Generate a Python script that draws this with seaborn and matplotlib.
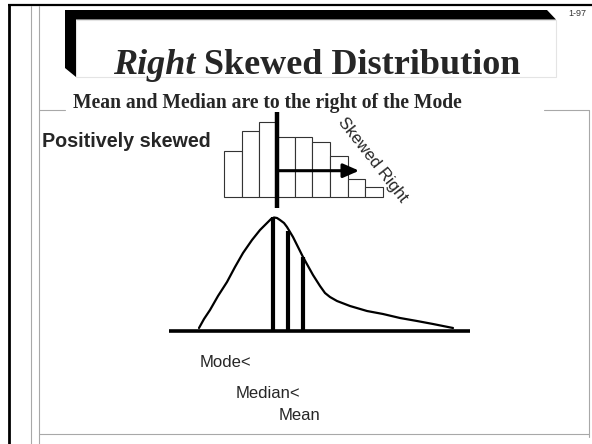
import matplotlib
matplotlib.use("Agg")
import matplotlib.pyplot as plt
import seaborn as sns
import pandas as pd
from matplotlib.patches import Polygon, Rectangle

# histogram bar heights (top panel)
bins = ["b1", "b2", "b3", "b4", "b5", "b6", "b7", "b8", "b9"]
bar_heights = [46, 66, 75, 60, 60, 55, 41, 18, 10]

# skewed density curve
curve_x = [30, 35, 41, 49, 58, 66, 74, 83, 91, 95, 99, 102, 105, 108, 111, 115,
           118, 124, 134, 144, 151, 156, 161, 168, 181, 198, 214, 231, 248, 264, 284]
curve_y = [3, 12, 21, 35, 49, 64, 78, 91, 101, 105, 109, 112, 113.5, 113, 111, 108,
           104, 94, 74, 56, 45, 38, 34, 30, 25, 20, 17, 13, 10, 7, 3]

# mode / median / mean positions on the curve
stat_names = ["Mode<", "Median<", "Mean"]
stat_x = [104, 119, 134]
stat_top = [114, 100, 74]

sns.set_theme(style="white")
plt.rcParams["font.family"] = ["Liberation Sans", "DejaVu Sans"]

W, H = 592, 444
fig = plt.figure(figsize=(W / 100, H / 100), dpi=100)
fig.patch.set_facecolor("white")

# background axes in pixel units for the slide decorations
bg = fig.add_axes([0, 0, 1, 1])
bg.set_xlim(0, W)
bg.set_ylim(H, 0)
bg.axis("off")

gray = "#a8a8a8"
bg.plot([8, W], [5.5, 5.5], color="black", lw=1.6, solid_capstyle="butt")
bg.plot([8.5, 8.5], [5, H], color="black", lw=2.0, solid_capstyle="butt")
bg.plot([31, 31], [6, H], color=gray, lw=0.8)
bg.plot([38.5, 38.5], [6, H], color=gray, lw=0.8)
bg.plot([38.5, 65], [110, 110], color=gray, lw=0.8)
bg.plot([544, 589], [110, 110], color=gray, lw=0.8)
bg.plot([589, 589], [110, 437], color=gray, lw=0.8)
bg.plot([38.5, 589], [434, 434], color=gray, lw=0.8)

# title frame
bg.add_patch(Rectangle((76, 20), 480, 57, fill=False, edgecolor="#e4e4e4", lw=0.8))
bg.add_patch(Polygon([(65, 10), (547, 10), (556, 19.5), (76, 19.5), (76, 77), (65, 68)],
                     closed=True, facecolor="black", edgecolor="none"))
bg.text(568, 13, "1-97", fontsize=6.5, color="#333333", va="center", ha="left")

serif = ["Liberation Serif", "DejaVu Serif"]
t1 = bg.text(113, 74, "Right", family=serif, fontsize=26.0, fontweight="bold",
             fontstyle="italic", va="baseline", ha="left")
fig.canvas.draw()
bb = t1.get_window_extent()
x1 = bg.transData.inverted().transform((bb.x1, bb.y0))[0]
bg.text(x1 + 9, 74, "Skewed Distribution", family=serif,
        fontsize=26.0, fontweight="bold", va="baseline", ha="left")

bg.text(73, 108, "Mean and Median are to the right of the Mode",
        family=serif, fontsize=14.1, fontweight="bold", va="baseline", ha="left")
bg.text(42, 147, "Positively skewed", fontsize=14.2, fontweight="bold",
        va="baseline", ha="left")

label_pos = [(200, 367), (236, 398), (279, 420)]
for name, (lx, ly) in zip(stat_names, label_pos):
    bg.text(lx, ly, name, fontsize=12, va="baseline", ha="left")

bg.text(373, 160, "Skewed Right", fontsize=12, rotation=-52,
        rotation_mode="anchor", va="center", ha="center")

# histogram panel
hx0, hx1, hy0 = 224, 383, 197
hist_ax = fig.add_axes([hx0 / W, (H - hy0) / H, (hx1 - hx0) / W, 75 / H])
hist_df = pd.DataFrame({"bin": bins, "height": bar_heights})
sns.barplot(data=hist_df, x="bin", y="height", ax=hist_ax, color="white",
            edgecolor="#333333", linewidth=0.8, width=1.0, saturation=1)
for p in hist_ax.patches:
    p.set_clip_on(False)
hist_ax.set_xlim(-0.5, len(bins) - 0.5)
hist_ax.set_ylim(0, 75)
hist_ax.axis("off")
hist_ax.patch.set_alpha(0)
hist_ax.plot([2.5, 2.5], [-11, 85], color="black", lw=3.2, clip_on=False,
             solid_capstyle="butt")
hist_ax.annotate("", xy=(7.15, 26.3), xytext=(2.55, 26.3),
                 arrowprops=dict(arrowstyle="-|>,head_length=0.8,head_width=0.35",
                                 color="black", lw=2.2, shrinkA=0, shrinkB=0),
                 annotation_clip=False)

# density curve panel
cx0, cx1, cy0, cy1 = 169, 470, 331, 217
curve_ax = fig.add_axes([cx0 / W, (H - cy0) / H, (cx1 - cx0) / W, (cy0 - cy1) / H])
curve_ax.patch.set_alpha(0)
sns.lineplot(x=curve_x, y=curve_y, ax=curve_ax, color="black", lw=1.6, sort=False)
for ln in curve_ax.lines:
    ln.set_solid_joinstyle("round")
    ln.set_clip_on(False)
curve_ax.set_xlim(0, cx1 - cx0)
curve_ax.set_ylim(0, cy0 - cy1)
curve_ax.axis("off")
curve_ax.plot([0, cx1 - cx0], [0, 0], color="black", lw=2.6, clip_on=False,
              solid_capstyle="butt")
for sx, st in zip(stat_x, stat_top):
    curve_ax.plot([sx, sx], [0, st], color="black", lw=3.0, clip_on=False,
                  solid_capstyle="butt")

fig.savefig("out.png", dpi=100)
